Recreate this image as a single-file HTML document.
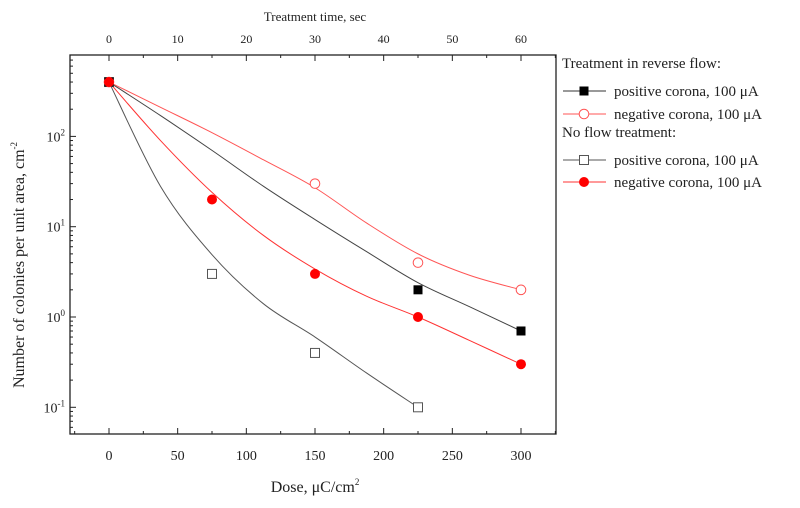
<!DOCTYPE html>
<html><head><meta charset="utf-8"><style>
body{margin:0;background:#fff;width:800px;height:503px;overflow:hidden}
svg text{font-family:"Liberation Serif",serif;fill:#222}
</style></head><body>
<svg id="chart" width="800" height="503" xmlns="http://www.w3.org/2000/svg"></svg>
<script>
const doses=[0,75,150,225,300];
const revPos=[400,null,null,2,0.7];
const revNeg=[400,null,30,4,2];
const noPos=[400,3,0.4,0.1,null];
const noNeg=[400,20,3,1,0.3];
const fitDoses=[0,37.5,75,112.5,150,187.5,225,262.5,300];
const fitRevPos=[400,170,70,28,12,5.3,2.4,1.3,0.7];
const fitRevNeg=[400,210,110,55,27,11,5,2.9,2];
const fitNoPos=[400,28,4.9,1.4,0.6,0.24,0.1];
const fitNoNeg=[400,90,24,8,3.4,1.7,1.0,0.55,0.3];
const xTicks=[0,50,100,150,200,250,300];
const topTicks=[0,10,20,30,40,50,60];
const yDecades=[-1,0,1,2];

const L=70,R=556,T=55,B=434;
const X=d=>109+(d)*412/300;
const Y=v=>317-Math.log10(v)*90.3;
const svg=document.getElementById('chart');
const NS='http://www.w3.org/2000/svg';
function mk(tag,attrs,parent){const e=document.createElementNS(NS,tag);for(const k in attrs)e.setAttribute(k,attrs[k]);(parent||svg).appendChild(e);return e;}

const frame=mk('rect',{x:L,y:T,width:R-L,height:B-T,fill:'none',stroke:'#222','stroke-width':1.3});



for(let d=-25;d<=325;d+=25){
  const x=X(d);if(x<L||x>R)continue;
  const major=d%50===0;const len=major?6:3;
  mk('line',{x1:x,y1:B,x2:x,y2:B-len,stroke:'#222'});
}
xTicks.forEach(d=>{
  const t=mk('text',{x:X(d),y:B+26,'text-anchor':'middle','font-size':14});t.textContent=d;
  
  
});
for(let s=0;s<=65;s+=5){
  const x=X(s*5);if(x>R)continue;
  const major=s%10===0;mk('line',{x1:x,y1:T,x2:x,y2:T+(major?6:3),stroke:'#222'});
}
topTicks.forEach(s=>{
  const t=mk('text',{x:X(s*5),y:T-12,'text-anchor':'middle','font-size':12});t.textContent=s;
  
  
});
for(let e=-2;e<=3;e++){
  for(let m=1;m<10;m++){
    const v=m*Math.pow(10,e);const y=Y(v);if(y<T||y>B)continue;
    mk('line',{x1:L,y1:y,x2:L+(m===1?6:3),y2:y,stroke:'#222'});
  }
}
yDecades.forEach(e=>{
  const t=mk('text',{x:L-5,y:Y(Math.pow(10,e))+5,'text-anchor':'end','font-size':14});
  t.innerHTML='10<tspan dy="-6" font-size="9">'+e+'</tspan>';
  
  
});

let tt=mk('text',{x:X(150),y:21,'text-anchor':'middle','font-size':13});tt.textContent='Treatment time, sec';


let xt=mk('text',{x:X(150),y:492,'text-anchor':'middle','font-size':16});xt.innerHTML='Dose, μC/cm<tspan dy="-7" font-size="9">2</tspan>';


let yt=mk('text',{x:0,y:0,'text-anchor':'middle','font-size':16,transform:'translate(24,265) rotate(-90)'});yt.innerHTML='Number of colonies per unit area, cm<tspan dy="-7" font-size="9">-2</tspan>';



function curve(vals,color,name){
  const p=vals.map((v,i)=>[X(fitDoses[i]),Y(v)]);
  let d='M'+p[0][0]+','+p[0][1];
  for(let i=0;i<p.length-1;i++){
    const p0=p[i-1]||p[i],p1=p[i],p2=p[i+1],p3=p[i+2]||p[i+1];
    const c1=[p1[0]+(p2[0]-p0[0])/6,p1[1]+(p2[1]-p0[1])/6];
    const c2=[p2[0]-(p3[0]-p1[0])/6,p2[1]-(p3[1]-p1[1])/6];
    d+=` C${c1[0]},${c1[1]} ${c2[0]},${c2[1]} ${p2[0]},${p2[1]}`;
  }
  const e=mk('path',{d,fill:'none',stroke:color,'stroke-width':1});
  
  
}
curve(fitNoPos,'#555','fit-no-flow-positive');
curve(fitRevPos,'#444','fit-reverse-positive');
curve(fitNoNeg,'#f33','fit-no-flow-negative');
curve(fitRevNeg,'#f55','fit-reverse-negative');

function marker(x,y,type,parent){
  if(type==='fsq')return mk('rect',{x:x-4.5,y:y-4.5,width:9,height:9,fill:'#000'},parent);
  if(type==='osq')return mk('rect',{x:x-4.5,y:y-4.5,width:9,height:9,fill:'#fff',stroke:'#555'},parent);
  if(type==='fci')return mk('circle',{cx:x,cy:y,r:5,fill:'#f00'},parent);
  return mk('circle',{cx:x,cy:y,r:4.8,fill:'#fff',stroke:'#f55'},parent);
}
function points(vals,type,name){
  vals.forEach((v,i)=>{if(v==null)return;
    const e=marker(X(doses[i]),Y(v),type);
    
    
  });
}
points(noPos,'osq','point-no-flow-positive');
points(revNeg,'oci','point-reverse-negative');
points(revPos,'fsq','point-reverse-positive');
points(noNeg,'fci','point-no-flow-negative');

const lg=mk('g',{});


function ltext(txt,x,y){const t=mk('text',{x,y,'font-size':15},lg);t.textContent=txt;return t;}
ltext('Treatment in reverse flow:',562,68);
ltext('No flow treatment:',562,137);
const entries=[[91,'#333','fsq','positive corona, 100 μA'],[114,'#f55','oci','negative corona, 100 μA'],[160,'#555','osq','positive corona, 100 μA'],[182,'#f33','fci','negative corona, 100 μA']];
entries.forEach(en=>{
  const g=mk('g',{},lg);
  
  
  mk('line',{x1:563,y1:en[0],x2:606,y2:en[0],stroke:en[1]},g);
  marker(584,en[0],en[2],g);
  const t=mk('text',{x:614,y:en[0]+5,'font-size':15},g);t.textContent=en[3];
});
</script>
</body></html>
